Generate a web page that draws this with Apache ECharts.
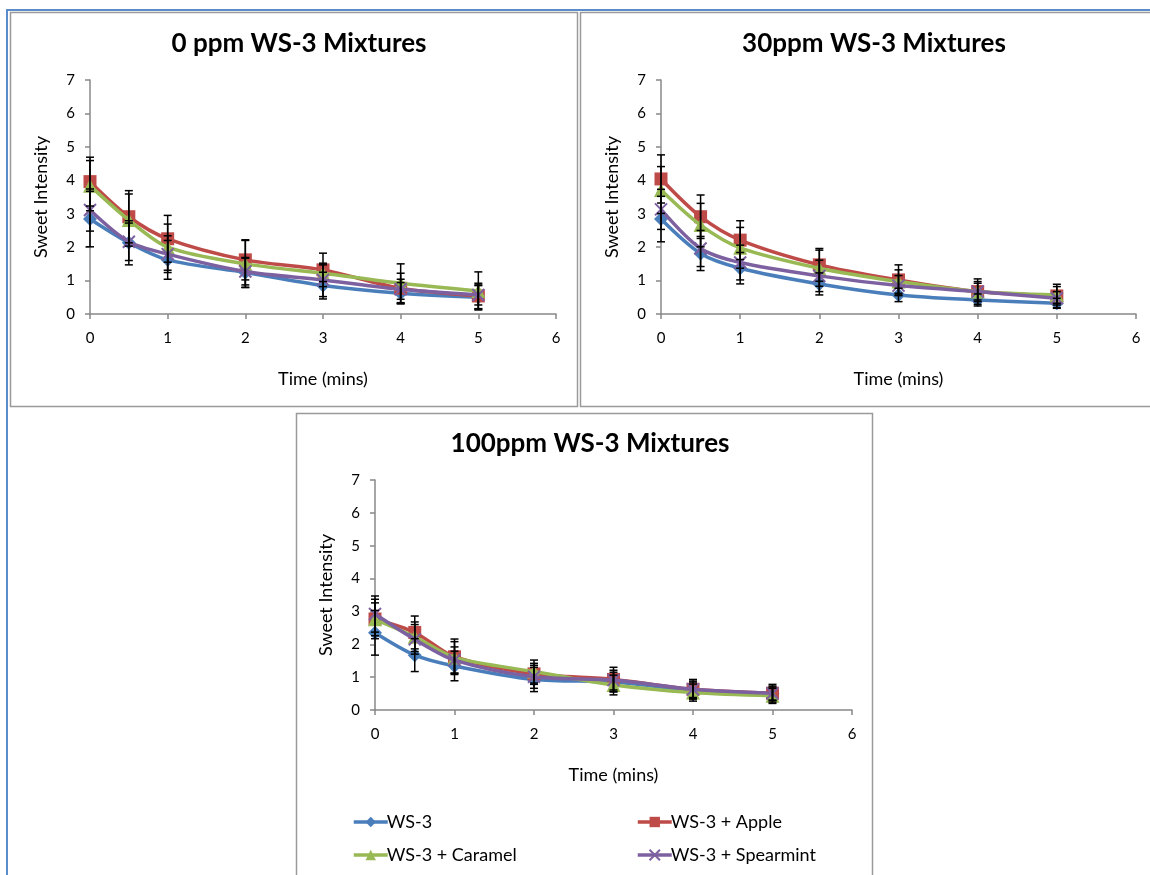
<!DOCTYPE html>
<html>
<head>
<meta charset="utf-8">
<script src="https://cdn.jsdelivr.net/npm/echarts@6/dist/echarts.min.js"></script>
<style>
html,body{margin:0;padding:0;background:#fff;}
#c{width:1150px;height:875px;}
</style>
</head>
<body>
<div id="c"></div>
<script>
// ---- data ----
const times = [0, 0.5, 1, 2, 3, 4, 5];
const seriesNames = ['WS-3', 'WS-3 + Apple', 'WS-3 + Caramel', 'WS-3 + Spearmint'];
const panelTitles = ['0 ppm WS-3 Mixtures', '30ppm WS-3 Mixtures', '100ppm WS-3 Mixtures'];
const xTicks = [0, 1, 2, 3, 4, 5, 6];
const yTicks = [0, 1, 2, 3, 4, 5, 6, 7];

// 0 ppm
const ws3_0      = [2.84, 2.13, 1.62, 1.24, 0.85, 0.62, 0.50];
const apple_0    = [3.96, 2.91, 2.25, 1.62, 1.32, 0.77, 0.54];
const caramel_0  = [3.84, 2.81, 2.00, 1.50, 1.22, 0.92, 0.69];
const spear_0    = [3.11, 2.16, 1.79, 1.27, 1.02, 0.74, 0.57];
const ws3Err_0     = [0.83, 0.66, 0.58, 0.45, 0.40, 0.32, 0.35];
const appleErr_0   = [0.73, 0.78, 0.70, 0.60, 0.50, 0.45, 0.38];
const caramelErr_0 = [0.75, 0.78, 0.69, 0.70, 0.25, 0.58, 0.57];
const spearErr_0   = [0.63, 0.56, 0.55, 0.40, 0.50, 0.30, 0.30];

// 30 ppm
const ws3_30      = [2.84, 1.81, 1.37, 0.90, 0.57, 0.42, 0.32];
const apple_30    = [4.04, 2.91, 2.21, 1.47, 1.02, 0.67, 0.54];
const caramel_30  = [3.71, 2.66, 1.98, 1.37, 0.97, 0.67, 0.57];
const spear_30    = [3.13, 1.96, 1.54, 1.14, 0.85, 0.67, 0.47];
const ws3Err_30     = [0.68, 0.51, 0.47, 0.33, 0.20, 0.18, 0.15];
const appleErr_30   = [0.72, 0.65, 0.58, 0.49, 0.45, 0.38, 0.35];
const caramelErr_30 = [0.70, 0.65, 0.61, 0.54, 0.35, 0.30, 0.25];
const spearErr_30   = [0.60, 0.54, 0.52, 0.47, 0.30, 0.25, 0.20];

// 100 ppm
const ws3_100      = [2.35, 1.67, 1.34, 0.93, 0.85, 0.60, 0.50];
const apple_100    = [2.77, 2.36, 1.62, 1.10, 0.93, 0.63, 0.51];
const caramel_100  = [2.76, 2.23, 1.60, 1.17, 0.76, 0.53, 0.43];
const spear_100    = [2.92, 2.15, 1.52, 1.01, 0.91, 0.63, 0.51];
const ws3Err_100     = [0.68, 0.50, 0.45, 0.37, 0.30, 0.25, 0.20];
const appleErr_100   = [0.60, 0.50, 0.54, 0.32, 0.37, 0.30, 0.27];
const caramelErr_100 = [0.50, 0.45, 0.48, 0.35, 0.30, 0.26, 0.23];
const spearErr_100   = [0.55, 0.45, 0.40, 0.35, 0.30, 0.25, 0.22];

const panelValues = [
  [ws3_0, apple_0, caramel_0, spear_0],
  [ws3_30, apple_30, caramel_30, spear_30],
  [ws3_100, apple_100, caramel_100, spear_100]
];
const panelErrors = [
  [ws3Err_0, appleErr_0, caramelErr_0, spearErr_0],
  [ws3Err_30, appleErr_30, caramelErr_30, spearErr_30],
  [ws3Err_100, appleErr_100, caramelErr_100, spearErr_100]
];

// ---- styles ----
const colors = ['#4A7EBB', '#BE4B48', '#98B954', '#7D60A0'];
const symbols = ['diamond', 'rect', 'triangle', 'path://M0,0 L2,2 M2,0 L0,2'];
const symbolSizes = [14, 13, 14, 12];
const font = 'Lato, "Open Sans", "Noto Sans", sans-serif';

const grids = [
  {left: 90, top: 80, width: 466, height: 234},
  {left: 661, top: 80, width: 475, height: 234},
  {left: 375, top: 480, width: 477, height: 230}
];
const titleCenters = [[294, 26], [869, 26], [585, 426]];

const chart = echarts.init(document.getElementById('c'), null, {renderer: 'canvas'});

const xAxes = [], yAxes = [], series = [], titles = [];
grids.forEach((g, p) => {
  xAxes.push({
    gridIndex: p, type: 'value', min: xTicks[0], max: xTicks[xTicks.length - 1], interval: 1,
    name: 'Time (mins)', nameLocation: 'middle', nameGap: 56,
    nameTextStyle: {fontFamily: font, fontSize: 18, color: '#000'},
    axisLine: {show: true, lineStyle: {color: '#888', width: 1.5}},
    axisTick: {show: true, length: 5, lineStyle: {color: '#888', width: 1.5}},
    axisLabel: {fontFamily: font, fontSize: 15, color: '#000', margin: 17},
    splitLine: {show: false}
  });
  yAxes.push({
    gridIndex: p, type: 'value', min: yTicks[0], max: yTicks[yTicks.length - 1], interval: 1,
    name: 'Sweet Intensity', nameLocation: 'middle', nameGap: 40, nameRotate: 90,
    nameTextStyle: {fontFamily: font, fontSize: 18, color: '#000'},
    axisLine: {show: true, lineStyle: {color: '#888', width: 1.5}},
    axisTick: {show: true, length: 5, lineStyle: {color: '#888', width: 1.5}},
    axisLabel: {fontFamily: font, fontSize: 15, color: '#000', margin: 15},
    splitLine: {show: false}
  });
  titles.push({
    text: panelTitles[p], left: titleCenters[p][0], top: titleCenters[p][1], textAlign: 'center',
    textStyle: {fontFamily: font, fontSize: 26, fontWeight: 'bold', color: '#000'}
  });
  panelValues[p].forEach((vals, s) => {
    series.push({
      type: 'line', name: seriesNames[s], xAxisIndex: p, yAxisIndex: p,
      data: times.map((t, i) => [t, vals[i]]),
      smooth: 0.3,
      symbol: symbols[s], symbolSize: symbolSizes[s],
      lineStyle: {color: colors[s], width: 3.5},
      itemStyle: {color: colors[s], borderColor: colors[s], borderWidth: s === 3 ? 2 : 0},
      z: 3 + s
    });
  });
  panelValues[p].forEach((vals, s) => {
    const errs = panelErrors[p][s];
    series.push({
      type: 'custom', name: seriesNames[s] + ' err', xAxisIndex: p, yAxisIndex: p,
      data: times.map((t, i) => [t, vals[i], errs[i]]),
      silent: true, z: 10,
      renderItem: function (params, api) {
        const x = api.value(0), y = api.value(1), e = api.value(2);
        const top = api.coord([x, y + e]);
        const bot = api.coord([x, y - e]);
        const hw = 4;
        const st = {stroke: '#000', lineWidth: 1.5};
        return {
          type: 'group',
          children: [
            {type: 'line', shape: {x1: top[0], y1: top[1], x2: bot[0], y2: bot[1]}, style: st},
            {type: 'line', shape: {x1: top[0] - hw, y1: top[1], x2: top[0] + hw, y2: top[1]}, style: st},
            {type: 'line', shape: {x1: bot[0] - hw, y1: bot[1], x2: bot[0] + hw, y2: bot[1]}, style: st}
          ]
        };
      }
    });
  });
});

const legendPos = [[347, 808], [631, 808], [347, 841], [631, 841]];
const legends = seriesNames.map((n, i) => ({
  data: [n], left: legendPos[i][0], top: legendPos[i][1], orient: 'horizontal',
  itemWidth: 34, itemHeight: 13, itemGap: 4,
  lineStyle: {width: 3.5},
  textStyle: {fontFamily: font, fontSize: 18, color: '#000', padding: [0, 0, 0, -6]},
  selectedMode: false
}));

const frameStyle = {stroke: '#9a9a9a', fill: 'none', lineWidth: 1.5};
chart.setOption({
  backgroundColor: '#ffffff',
  animation: false,
  title: titles,
  grid: grids,
  xAxis: xAxes,
  yAxis: yAxes,
  legend: legends,
  series: series,
  graphic: [
    {type: 'line', shape: {x1: 6, y1: 10, x2: 1150, y2: 10}, style: {stroke: '#5b8bc8', lineWidth: 2}, z: -1},
    {type: 'line', shape: {x1: 7, y1: 10, x2: 7, y2: 875}, style: {stroke: '#5b8bc8', lineWidth: 2}, z: -1},
    {type: 'rect', shape: {x: 10.5, y: 12.5, width: 567, height: 394}, style: frameStyle, z: -1},
    {type: 'rect', shape: {x: 580.5, y: 12.5, width: 580, height: 394}, style: frameStyle, z: -1},
    {type: 'rect', shape: {x: 296.5, y: 413.5, width: 576, height: 470}, style: frameStyle, z: -1}
  ]
});
</script>
</body>
</html>
